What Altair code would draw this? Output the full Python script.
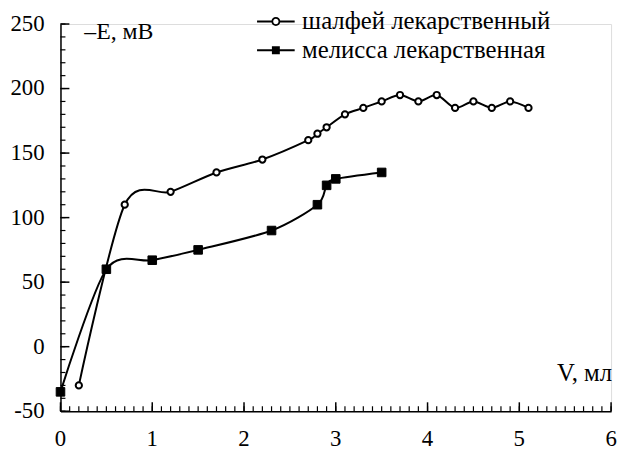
import altair as alt
import pandas as pd

sage_v = [0.2, 0.7, 1.2, 1.7, 2.2, 2.7, 2.8, 2.9, 3.1, 3.3, 3.5, 3.7, 3.9, 4.1, 4.3, 4.5, 4.7, 4.9, 5.1]
sage_e = [-30, 110, 120, 135, 145, 160, 165, 170, 180, 185, 190, 195, 190, 195, 185, 190, 185, 190, 185]
mel_v = [0, 0.5, 1.0, 1.5, 2.3, 2.8, 2.9, 3.0, 3.5]
mel_e = [-35, 60, 67, 75, 90, 110, 125, 130, 135]

series_names = ["шалфей лекарственный", "мелисса лекарственная"]

x_labels = [0, 1, 2, 3, 4, 5, 6]
y_labels = [-50, 0, 50, 100, 150, 200, 250]
x_minor = [round(i * 0.1, 1) for i in range(0, 61)]
y_minor = list(range(-50, 251, 10))
x_title = "V, мл"
y_title = "–E, мВ"

df = pd.DataFrame(
    {"V": sage_v + mel_v,
     "E": sage_e + mel_e,
     "series": [series_names[0]] * len(sage_v) + [series_names[1]] * len(mel_v)}
)
xminor_df = pd.DataFrame({"V": x_minor})
yminor_df = pd.DataFrame({"E": y_minor})
xmajor_df = pd.DataFrame({"V": x_labels, "lab": [str(v) for v in x_labels]})
ymajor_df = pd.DataFrame({"E": y_labels, "lab": [str(v) for v in y_labels]})
title_df = pd.DataFrame({"V": [6], "E": [250], "xt": [x_title], "yt": [y_title]})

W, H = 556, 391
FONT = "Liberation Serif"

xs = alt.Scale(domain=[0, 6], nice=False, zero=False)
ys = alt.Scale(domain=[-50, 250], nice=False, zero=False)

base = alt.Chart(df)

lines = base.mark_line(interpolate="cardinal", tension=0.15, color="black", strokeWidth=2).encode(
    x=alt.X("V:Q", scale=xs, axis=alt.Axis(
        orient="bottom", labels=False, ticks=False, grid=False, title="",
        domainColor="black", domainWidth=1.5)),
    y=alt.Y("E:Q", scale=ys, axis=alt.Axis(
        orient="left", labels=False, ticks=False, grid=False, title="",
        domainColor="black", domainWidth=1.5)),
    detail="series:N",
)

y_minor_ticks = alt.Chart(yminor_df).mark_rule(color="black", strokeWidth=1.2).encode(
    y=alt.Y("E:Q", scale=ys), x=alt.value(0), x2=alt.value(5))
y_major_ticks = alt.Chart(ymajor_df).mark_rule(color="black", strokeWidth=1.5).encode(
    y=alt.Y("E:Q", scale=ys), x=alt.value(0), x2=alt.value(9))
x_minor_ticks = alt.Chart(xminor_df).mark_rule(color="black", strokeWidth=1.2).encode(
    x=alt.X("V:Q", scale=xs), y=alt.value(H), y2=alt.value(H - 5))
x_major_ticks = alt.Chart(xmajor_df).mark_rule(color="black", strokeWidth=1.5).encode(
    x=alt.X("V:Q", scale=xs), y=alt.value(H), y2=alt.value(H - 9))

y_tick_labels = alt.Chart(ymajor_df).mark_text(
    font=FONT, fontSize=23, color="black", align="right", baseline="middle"
).encode(y=alt.Y("E:Q", scale=ys), x=alt.value(-16), text="lab:N")
x_tick_labels = alt.Chart(xmajor_df).mark_text(
    font=FONT, fontSize=23, color="black", align="center", baseline="alphabetic"
).encode(x=alt.X("V:Q", scale=xs), y=alt.value(H + 35), text="lab:N")

y_title_mark = alt.Chart(title_df).mark_text(
    font=FONT, fontSize=24, color="black", align="left", baseline="middle"
).encode(x=alt.value(24), y=alt.value(8), text="yt:N")
x_title_mark = alt.Chart(title_df).mark_text(
    font=FONT, fontSize=25, color="black", align="right", baseline="middle"
).encode(x=alt.value(W + 1), y=alt.value(H - 39), text="xt:N")

sage_pts = base.transform_filter(alt.datum.series == series_names[0]).mark_point(
    shape="circle", size=40, filled=True, fill="white", stroke="black", strokeWidth=2, opacity=1
).encode(
    x=alt.X("V:Q", scale=xs),
    y=alt.Y("E:Q", scale=ys),
)

mel_pts = base.transform_filter(alt.datum.series == series_names[1]).mark_point(
    shape="square", size=75, filled=True, fill="black", stroke="black", strokeWidth=1, opacity=1
).encode(
    x=alt.X("V:Q", scale=xs),
    y=alt.Y("E:Q", scale=ys),
)

bar = "M-1.9,-0.1H-0.38V0.1H-1.9Z M0.38,-0.1H1.9V0.1H0.38Z"
ring = ("M0.45,0A0.45,0.45,0,1,1,-0.45,0A0.45,0.45,0,1,1,0.45,0Z "
        "M0.27,0A0.27,0.27,0,1,0,-0.27,0A0.27,0.27,0,1,0,0.27,0Z")
circle_path = bar + " " + ring
square_path = "M-1.9,-0.1H1.9V0.1H-1.9Z M-0.4,-0.4H0.4V0.4H-0.4Z"

legend_layer = base.transform_filter("false").mark_point(
    filled=True, opacity=1, color="black", fill="black", strokeWidth=0
).encode(
    x=alt.X("V:Q", scale=xs),
    y=alt.Y("E:Q", scale=ys),
    shape=alt.Shape("series:N", scale=alt.Scale(domain=series_names, range=[circle_path, square_path]),
                    legend=alt.Legend(title=None, orient="none", legendX=205, legendY=-15,
                                      symbolSize=400, symbolStrokeWidth=0, symbolFillColor="black",
                                      symbolOpacity=1,
                                      labelFont=FONT, labelFontSize=25, labelColor="black",
                                      labelOffset=14, rowPadding=3, labelLimit=400)),
)

chart = alt.layer(lines, y_minor_ticks, y_major_ticks, x_minor_ticks, x_major_ticks,
                  y_tick_labels, x_tick_labels, y_title_mark, x_title_mark,
                  sage_pts, mel_pts, legend_layer).properties(
    width=W, height=H,
    autosize=alt.AutoSizeParams(type="none"),
    padding={"left": 53, "top": 14, "right": 8, "bottom": 38},
).configure_view(stroke=None).configure(background="white", font=FONT)

chart.save("out.html", embed_options={"renderer": "svg", "actions": False})
